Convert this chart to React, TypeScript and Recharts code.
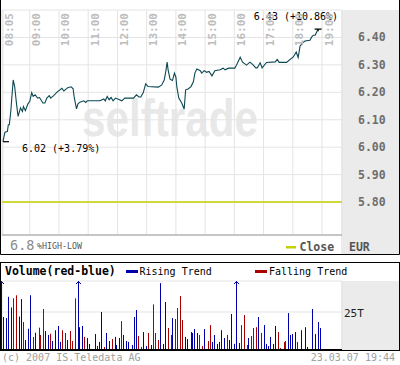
import { LineChart, Line, ComposedChart, Bar, XAxis, YAxis, CartesianGrid, ReferenceLine } from "recharts";

const MONO = "'DejaVu Sans Mono', monospace";
const LINE_C = "#0b4852";
const BLUE = "#0000a8";
const RED = "#a80000";
const CLOSE_C = "#c6d000";
const GRID_C = "#e4e4e4";

// intraday price (EUR)
const priceTimes = [
  "08:05", "08:09", "08:14", "08:16", "08:18", "08:21", "08:26", "08:29", "08:33", "08:36",
  "08:41", "08:45", "08:47", "08:51", "08:56", "09:00", "09:04", "09:07", "09:11", "09:16",
  "09:20", "09:27", "09:31", "09:35", "09:40", "09:43", "09:49", "09:56", "10:06", "10:10",
  "10:18", "10:25", "10:29", "10:31", "10:34", "10:36", "10:39", "10:43", "10:51", "10:55",
  "10:58", "11:24", "11:32", "11:35", "11:39", "11:43", "11:47", "11:51", "11:56", "12:02",
  "12:09", "12:15", "12:33", "12:39", "12:44", "12:48", "12:53", "12:58", "13:03", "13:24",
  "13:31", "13:36", "13:39", "13:42", "13:44", "13:48", "13:53", "13:57", "14:00", "14:02",
  "14:06", "14:12", "14:17", "14:20", "14:25", "14:31", "14:36", "14:39", "14:43", "14:50",
  "14:53", "14:58", "15:03", "15:08", "15:14", "15:20", "15:31", "15:37", "15:41", "15:48",
  "16:01", "16:06", "16:12", "16:17", "16:25", "16:32", "16:38", "16:44", "16:47", "16:53",
  "16:57", "17:06", "17:24", "17:28", "17:32", "17:47", "18:01", "18:07", "18:11", "18:15",
  "18:20", "18:25", "18:35", "18:39", "18:42", "18:46", "18:49", "18:52",
];
const prices = [
  6.02, 6.055, 6.057, 6.082, 6.082, 6.13, 6.245, 6.221, 6.155, 6.112,
  6.143, 6.13, 6.148, 6.133, 6.157, 6.167, 6.199, 6.185, 6.191, 6.179,
  6.181, 6.161, 6.161, 6.179, 6.188, 6.179, 6.188, 6.201, 6.215, 6.205,
  6.217, 6.22, 6.213, 6.185, 6.157, 6.14, 6.158, 6.164, 6.169, 6.163,
  6.169, 6.169, 6.176, 6.169, 6.185, 6.173, 6.181, 6.169, 6.179, 6.175,
  6.169, 6.179, 6.179, 6.191, 6.183, 6.183, 6.199, 6.231, 6.221, 6.219,
  6.227, 6.245, 6.273, 6.31, 6.282, 6.248, 6.243, 6.27, 6.255, 6.219,
  6.179, 6.161, 6.139, 6.209, 6.212, 6.221, 6.239, 6.27, 6.285, 6.279,
  6.27, 6.279, 6.273, 6.276, 6.26, 6.279, 6.282, 6.288, 6.282, 6.288,
  6.288, 6.305, 6.328, 6.31, 6.299, 6.31, 6.301, 6.289, 6.289, 6.308,
  6.289, 6.309, 6.311, 6.32, 6.309, 6.309, 6.329, 6.347, 6.327, 6.369,
  6.38, 6.387, 6.39, 6.402, 6.408, 6.408, 6.42, 6.43,
];

// volume in thousands, trend 1 = rising (blue), -1 = falling (red)
const volTimes = [
  "08:03", "08:08", "08:14", "08:18", "08:24", "08:28", "08:34", "08:39", "08:45", "08:49",
  "08:53", "08:59", "09:03", "09:09", "09:13", "09:20", "09:24", "09:30", "09:34", "09:40",
  "09:44", "09:48", "09:54", "09:59", "10:05", "10:09", "10:15", "10:19", "10:25", "10:29",
  "10:34", "10:40", "10:44", "10:50", "10:54", "11:00", "11:04", "11:15", "11:21", "11:25",
  "11:29", "11:35", "11:39", "11:45", "11:50", "11:56", "12:00", "12:06", "12:10", "12:14",
  "12:20", "12:24", "12:31", "12:35", "12:41", "12:45", "12:51", "12:55", "13:01", "13:05",
  "13:10", "13:16", "13:20", "13:26", "13:30", "13:36", "13:40", "13:46", "13:51", "13:55",
  "14:01", "14:05", "14:11", "14:15", "14:21", "14:25", "14:32", "14:36", "14:40", "14:46",
  "14:50", "14:56", "15:00", "15:07", "15:11", "15:17", "15:21", "15:27", "15:31", "15:35",
  "15:41", "15:46", "15:52", "15:56", "16:02", "16:06", "16:12", "16:16", "16:21", "16:27",
  "16:31", "16:37", "16:41", "16:47", "16:51", "16:57", "17:02", "17:08", "17:12", "17:16",
  "17:22", "17:26", "17:32", "17:36", "17:43", "17:47", "17:53", "17:57", "18:01", "18:07",
  "18:11", "18:18", "18:28", "18:32", "18:42", "18:48", "18:53", "18:57",
];
const volumes = [
  62, 21.7, 21, 35, 28, 34, 36, 22, 33.5, 18.4,
  6.6, 14, 36, 8.6, 11.4, 14.7, 9.9, 27, 12.5, 9.9,
  10.7, 5.9, 13, 15.8, 5.3, 13, 11.2, 6.6, 12.5, 5.9,
  34, 58, 15, 15.8, 8.6, 7.9, 4, 10.5, 2.6, 5.3,
  25, 2, 11.2, 5.9, 7.2, 8.6, 3.3, 7.9, 19, 9.9,
  5.9, 5.3, 3.3, 21.7, 26.3, 9.2, 2, 11.8, 2.6, 11.2,
  3.3, 30, 11.2, 6.6, 44, 4, 31.6, 14.5, 9.9, 21,
  20.4, 27.6, 35.5, 19.7, 8.6, 7.2, 11.8, 11.2, 13.8, 11.2,
  9.9, 2.6, 13.8, 5.9, 16.4, 5.3, 9.9, 4, 5.3, 13,
  7.9, 9.9, 6.6, 23.7, 4, 55, 4.6, 16.4, 23, 3.3,
  7.9, 9.2, 14.5, 15, 21.7, 11.2, 16.4, 4, 2.6, 8.6,
  4, 15.8, 11.8, 1.3, 5.3, 5.9, 24.3, 9.9, 10.5, 11.8,
  5.3, 13, 15, 2, 27, 10.5, 18.4, 14.5,
];
const volTrend = [
  1, 1, 1, 1, 1, -1, -1, 1, 1, -1,
  1, 1, 1, -1, 1, -1, -1, -1, 1, 1,
  -1, 1, 1, 1, 1, -1, -1, 1, -1, -1,
  -1, 1, 1, 1, -1, 1, 1, 1, 1, 1,
  1, -1, 1, 1, -1, 1, 1, 1, -1, 1,
  1, 1, 1, 1, 1, -1, -1, 1, 1, -1,
  1, -1, -1, -1, 1, 1, 1, -1, -1, 1,
  -1, -1, -1, -1, 1, 1, 1, 1, 1, 1,
  -1, -1, 1, -1, -1, 1, 1, 1, 1, 1,
  1, -1, 1, 1, 1, 1, 1, -1, -1, -1,
  1, -1, -1, -1, 1, -1, 1, 1, 1, 1,
  1, 1, -1, -1, -1, -1, 1, 1, 1, 1,
  -1, 1, 1, 1, 1, 1, 1, 1,
];

const hourLabels = ["08:05", "09:00", "10:00", "11:00", "12:00", "13:00", "14:00", "15:00", "16:00", "17:00", "18:00", "19:00"];
const priceTicks = [5.8, 5.9, 6.0, 6.1, 6.2, 6.3, 6.4, 6.5];
const volTicks = [0, 25, 45.4];
const previousClose = 5.8;
const currency = "EUR";
const stampText = "23.03.07 19:44";

const toMin = (s: string) => {
  const [h, m] = s.split(":").map(Number);
  return h * 60 + m;
};
const TIME_DOMAIN = [483, 1181];
const PRICE_DOMAIN = [5.68, 6.5];
const VOL_MAX = 45.4;

const priceData = priceTimes.map((t, i) => ({ t: toMin(t), p: prices[i] }));
const volData = volTimes.map((t, i) => ({ t: toMin(t), v: volumes[i], up: volTrend[i] > 0 }));
const hourTicks = hourLabels.map(toMin);

const hi = Math.max(...prices);
const lo = Math.min(...prices);
const hiIdx = prices.indexOf(hi);
const loIdx = prices.indexOf(lo);
const pct = (v: number) => ((v / previousClose - 1) * 100).toFixed(2);
const hiLabel = `${hi.toFixed(2)} (+${pct(hi)}%)`;
const loLabel = `${lo.toFixed(2)} (+${pct(lo)}%)`;
const rangeLabel = (((hi - lo) / lo) * 100).toFixed(1);

const fmtTime = (m: number) => `${String(Math.floor(m / 60)).padStart(2, "0")}:${String(m % 60).padStart(2, "0")}`;

const TimeTick = ({ x, payload }: any) => (
  <text
    transform={`translate(${x + 7},13) rotate(-90)`}
    textAnchor="end"
    dominantBaseline="central"
    fill="#bdbdbd"
    fontSize={11}
    fontWeight="bold"
    fontFamily={MONO}
  >
    {fmtTime(payload.value)}
  </text>
);

const PriceTick = ({ y, payload }: any) =>
  payload.value > 6.45 ? (
    <g />
  ) : (
    <text x={358} y={y} dominantBaseline="central" fill="#6e6e6e" fontSize={11.5} fontWeight="bold" fontFamily={MONO}>
      {payload.value.toFixed(2)}
    </text>
  );

const VolTick = ({ y, payload }: any) =>
  payload.value !== 25 ? (
    <g />
  ) : (
    <text x={344} y={y + 1} dominantBaseline="central" fill="#222" fontSize={11} fontFamily={MONO}>
      {payload.value}T
    </text>
  );

const renderDot = (p: any) => {
  const { cx, cy, index } = p;
  if (index === hiIdx)
    return (
      <g key="hi">
        <path d={`M${cx - 3.5},${cy}H${cx + 3.5}M${cx},${cy}V${cy + 2}`} stroke="#000" strokeWidth={1.2} />
        <text x={cx + 20} y={cy - 9} textAnchor="end" fontSize={10} fontFamily={MONO} fill="#000">
          {hiLabel}
        </text>
      </g>
    );
  if (index === loIdx)
    return (
      <g key="lo">
        <path d={`M${cx},${cy}H${cx + 6}`} stroke="#000" strokeWidth={1.2} />
        <text x={cx + 19} y={cy + 10} fontSize={10} fontFamily={MONO} fill="#000">
          {loLabel}
        </text>
      </g>
    );
  return <g key={index} />;
};

const VolBar = (p: any) => {
  const { x, y, width, height, payload } = p;
  const color = payload.up ? BLUE : RED;
  const bx = Math.round(x + width / 2 - 0.5);
  const bottom = y + height;
  if (payload.v > VOL_MAX) {
    const top = bottom - (VOL_MAX / payload.v) * height;
    return (
      <g>
        <rect x={bx} y={top} width={1} height={bottom - top} fill={color} />
        <path d={`M${bx - 2},${top + 3}L${bx + 0.5},${top + 0.5}L${bx + 3},${top + 3}`} stroke={color} fill="none" />
      </g>
    );
  }
  return <rect x={bx} y={y} width={1} height={height} fill={color} />;
};

export default function App() {
  return (
    <div style={{ position: "absolute", left: 0, top: 0, width: 400, height: 365, background: "#fff", overflow: "hidden", fontFamily: MONO }}>
      {/* backdrop: watermark and gray axis panels */}
      <svg width={400} height={365} style={{ position: "absolute", left: 0, top: 0 }}>
        <rect x={341} y={10} width={58} height={244} fill="#ebebeb" />
        <rect x={341} y={281} width={58} height={69} fill="#ebebeb" />
        <text x={82} y={136} fontSize={52} fontWeight="bold" fontFamily="'Liberation Sans', Arial, sans-serif" fill="#e8e8e8" textLength={176} lengthAdjust="spacingAndGlyphs">
          selftrade
        </text>
      </svg>

      <div style={{ position: "absolute", left: 0, top: 0 }}>
        <LineChart width={400} height={255} data={priceData} margin={{ top: 10, right: 0, bottom: 0, left: 2 }}>
          <CartesianGrid stroke={GRID_C} strokeWidth={1} />
          <XAxis
            dataKey="t"
            type="number"
            domain={TIME_DOMAIN}
            ticks={hourTicks}
            height={20}
            axisLine={{ stroke: "#9a9a9a" }}
            tickLine={false}
            tick={<TimeTick />}
            interval={0}
          />
          <YAxis
            orientation="right"
            type="number"
            domain={PRICE_DOMAIN}
            ticks={priceTicks}
            width={58}
            axisLine={false}
            tickLine={false}
            tick={<PriceTick />}
            interval={0}
          />
          <ReferenceLine y={previousClose} stroke={CLOSE_C} strokeWidth={1.5} />
          <Line type="linear" dataKey="p" stroke={LINE_C} strokeWidth={1.1} dot={renderDot} activeDot={false} isAnimationActive={false} />
        </LineChart>
      </div>

      <div style={{ position: "absolute", left: 0, top: 262 }}>
        <ComposedChart width={400} height={89} data={volData} margin={{ top: 19, right: 0, bottom: 0, left: 2 }}>
          <CartesianGrid stroke={GRID_C} strokeWidth={1} />
          <XAxis
            dataKey="t"
            type="number"
            domain={TIME_DOMAIN}
            ticks={hourTicks}
            height={1}
            axisLine={{ stroke: "#000", strokeWidth: 2 }}
            tickLine={false}
            tick={false}
          />
          <YAxis
            orientation="right"
            type="number"
            domain={[0, VOL_MAX]}
            ticks={volTicks}
            allowDataOverflow
            width={58}
            axisLine={false}
            tickLine={false}
            tick={<VolTick />}
            interval={0}
          />
          <Bar dataKey="v" barSize={1} shape={VolBar} isAnimationActive={false} />
        </ComposedChart>
      </div>

      {/* frames, legends and captions */}
      <svg width={400} height={365} style={{ position: "absolute", left: 0, top: 0, pointerEvents: "none" }}>
        <path d="M0.5,0V254.5H399.5V0" stroke="#000" fill="none" strokeWidth={1} />
        <text x={10} y={250} fontSize={13.5} fill="#8c8c8c" fontFamily={MONO}>
          {rangeLabel}
        </text>
        <text x={37} y={249} fontSize={8.3} fill="#555" fontFamily={MONO}>
          %HIGH-LOW
        </text>
        <rect x={286} y={246} width={10} height={2.5} fill={CLOSE_C} />
        <text x={299.5} y={251} fontSize={11.5} fontWeight="bold" fill="#555" fontFamily={MONO}>
          Close
        </text>
        <text x={349} y={251} fontSize={11.5} fontWeight="bold" fill="#555" fontFamily={MONO}>
          {currency}
        </text>

        <rect x={0.5} y={262.5} width={399} height={88} stroke="#000" fill="none" />
        <text x={5} y={275} fontSize={11.5} fontWeight="bold" fill="#000" fontFamily={MONO}>
          Volume(red-blue)
        </text>
        <rect x={126} y={270} width={12} height={3} fill={BLUE} />
        <text x={139.5} y={275} fontSize={10} fill="#000" fontFamily={MONO}>
          Rising Trend
        </text>
        <rect x={255} y={270} width={12} height={3} fill={RED} />
        <text x={269} y={275} fontSize={10} fill="#000" fontFamily={MONO}>
          Falling Trend
        </text>

        <text x={2} y={361} fontSize={10} fill="#a0a0a0" fontFamily={MONO}>
          (c) 2007 IS.Teledata AG
        </text>
        <text x={395} y={361} textAnchor="end" fontSize={10} fill="#a0a0a0" fontFamily={MONO}>
          {stampText}
        </text>
      </svg>
    </div>
  );
}
